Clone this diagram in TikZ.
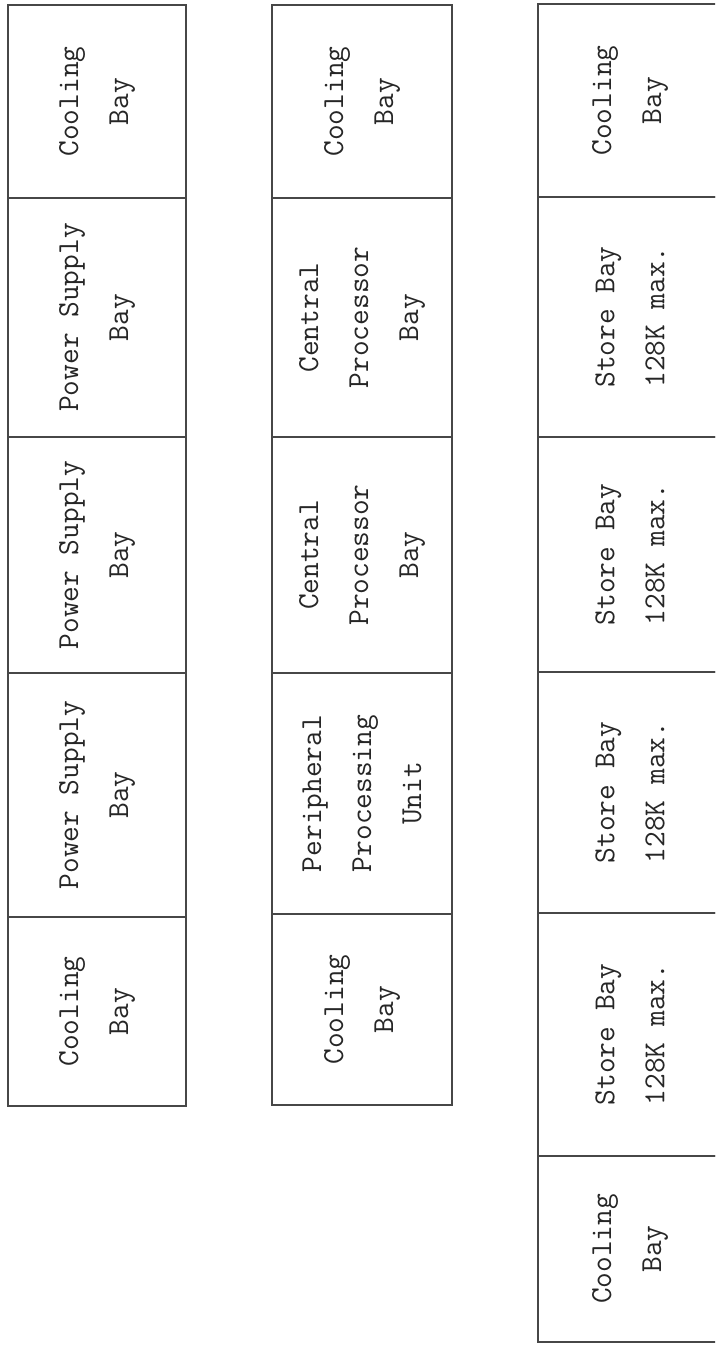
\documentclass[tikz,border=0pt]{standalone}
\usetikzlibrary{positioning}

\begin{document}
\begin{tikzpicture}[x=1pt, y=-1pt,
  bay/.style={draw=black!72, line width=2.4pt, rotate=90, align=center, inner sep=0pt,
    text=black!85, font=\ttfamily\fontsize{30.5}{50}\selectfont}]
  \fill[white] (0,0) rectangle (715,1346);
  \useasboundingbox (0,0) rectangle (715,1346);
  \clip (0,0) rectangle (715,1346);

  % left cabinet
  \node[bay, minimum width=193pt, minimum height=178pt] (l1) at (97,101.5) {Cooling\\Bay};
  \node[bay, minimum width=239pt, minimum height=178pt] (l2) at (97,317.5) {Power Supply\\Bay};
  \node[bay, minimum width=236pt, minimum height=178pt] (l3) at (97,555) {Power Supply\\Bay};
  \node[bay, minimum width=244pt, minimum height=178pt] (l4) at (97,795) {Power Supply\\Bay};
  \node[bay, minimum width=189pt, minimum height=178pt] (l5) at (97,1011.5) {Cooling\\Bay};

  % middle cabinet
  \node[bay, minimum width=193pt, minimum height=180pt] (m1) at (362,101.5) {Cooling\\Bay};
  \node[bay, minimum width=239pt, minimum height=180pt] (m2) at (362,317.5) {Central\\Processor\\Bay};
  \node[bay, minimum width=236pt, minimum height=180pt] (m3) at (362,555) {Central\\Processor\\Bay};
  \node[bay, minimum width=241pt, minimum height=180pt] (m4) at (362,793.5) {Peripheral\\Processing\\Unit};
  \node[bay, minimum width=191pt, minimum height=180pt] (m5) at (362,1009.5) {Cooling\\Bay};

  % right cabinet
  \node[bay, minimum width=193pt, minimum height=184pt] (r1) at (630,100.5) {Cooling\\Bay};
  \node[bay, minimum width=240pt, minimum height=184pt] (r2) at (630,317) {Store Bay\\128K max.};
  \node[bay, minimum width=235pt, minimum height=184pt] (r3) at (630,554.5) {Store Bay\\128K max.};
  \node[bay, minimum width=241pt, minimum height=184pt] (r4) at (630,792.5) {Store Bay\\128K max.};
  \node[bay, minimum width=243pt, minimum height=184pt] (r5) at (630,1034.5) {Store Bay\\128K max.};
  \node[bay, minimum width=186pt, minimum height=184pt] (r6) at (630,1249) {Cooling\\Bay};
\end{tikzpicture}
\end{document}
